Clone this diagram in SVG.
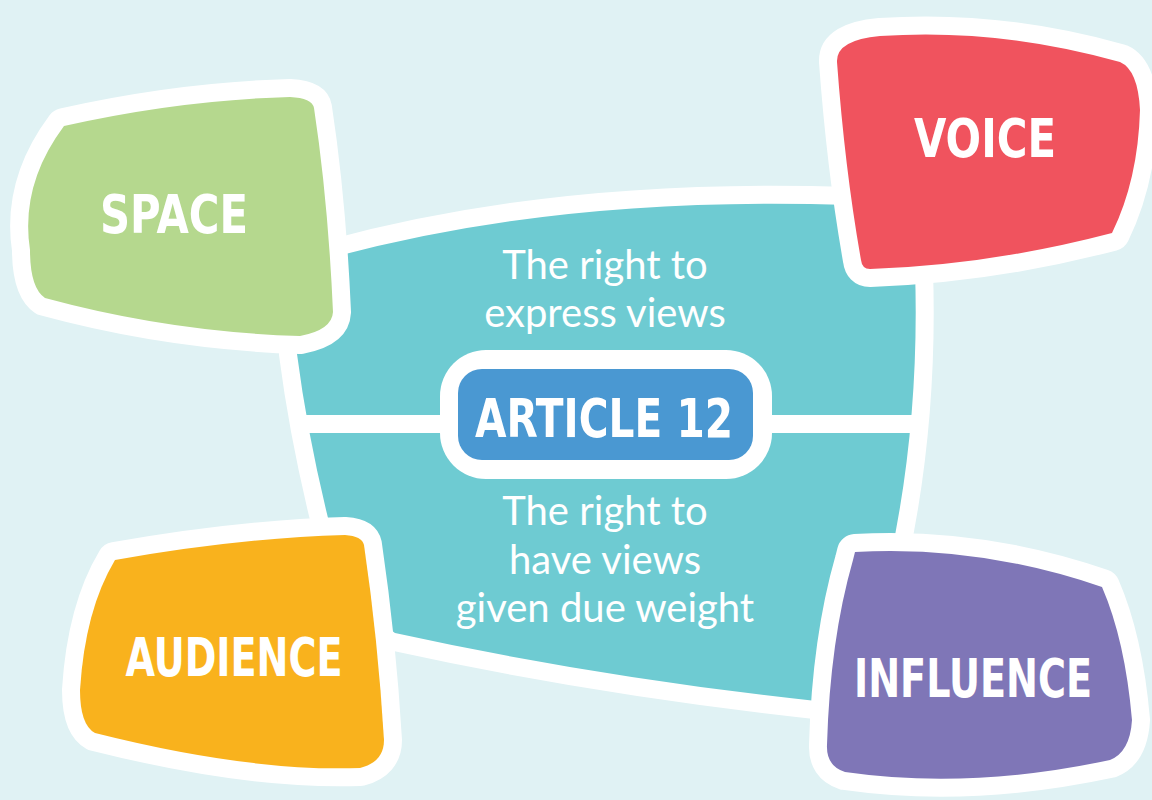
<svg xmlns="http://www.w3.org/2000/svg" width="1152" height="800" viewBox="0 0 1152 800">
<style>
.blob{stroke:#FFFFFF;stroke-width:36;stroke-linejoin:round;paint-order:stroke}
.lbl{font-family:"DejaVu Sans Condensed","DejaVu Sans","Liberation Sans",sans-serif;font-weight:bold;font-size:54px;fill:#FFFFFF;text-anchor:middle}
.body{font-family:Lato,"Open Sans",sans-serif;font-size:40px;fill:#FFFFFF;text-anchor:middle}
</style>
<rect x="0" y="0" width="1152" height="800" fill="#E0F2F4"/>
<g id="center">
  <path class="blob" fill="#6ECBD2" d="M 330,258 Q 560,195 850,205 L 915,270 Q 920,420 890,560 L 880,620 L 825,702 Q 600,678 395,633 L 350,600 Q 312,470 297,354 Q 296,300 330,258 Z"/>
</g>
<g id="connectors">
  <line x1="297" y1="424" x2="915" y2="424" stroke="#FFFFFF" stroke-width="18"/>
</g>
<g id="article12">
  <rect x="440" y="350" width="332" height="129" rx="46" ry="46" fill="#FFFFFF"/>
  <rect x="458" y="369" width="295" height="91" rx="24" ry="24" fill="#4A98D2"/>
  <text class="lbl" x="604" y="437" textLength="258" lengthAdjust="spacingAndGlyphs">ARTICLE 12</text>
</g>
<g id="express">
  <text class="body" x="605" y="279">The right to</text>
  <text class="body" x="605" y="327">express views</text>
</g>
<g id="weight">
  <text class="body" x="605" y="525">The right to</text>
  <text class="body" x="605" y="574">have views</text>
  <text class="body" x="605" y="622">given due weight</text>
</g>
<g id="space">
  <path class="blob" fill="#B5D88E" d="M 64,126 Q 180,100 290,97 Q 312,98 314,108 Q 328,200 333,312 Q 332,330 300,336 Q 170,332 45,298 Q 30,288 30,250 Q 20,185 64,126 Z"/>
  <text class="lbl" x="174" y="233" textLength="148" lengthAdjust="spacingAndGlyphs">SPACE</text>
</g>
<g id="voice">
  <path class="blob" fill="#F0535E" d="M 837,62 Q 836,40 880,36 Q 1000,28 1120,62 Q 1138,70 1140,110 Q 1138,180 1112,233 Q 990,265 870,269 Q 862,269 861,260 Q 845,170 837,62 Z"/>
  <text class="lbl" x="985" y="157" textLength="142" lengthAdjust="spacingAndGlyphs">VOICE</text>
</g>
<g id="audience">
  <path class="blob" fill="#F9B21D" d="M 115,560 Q 240,538 345,535 Q 362,536 364,545 Q 378,640 384,740 Q 384,762 360,768 Q 250,772 95,733 Q 80,725 80,690 Q 85,610 115,560 Z"/>
  <text class="lbl" x="234" y="676" textLength="217" lengthAdjust="spacingAndGlyphs">AUDIENCE</text>
</g>
<g id="influence">
  <path class="blob" fill="#7F76B7" d="M 855,552 Q 980,545 1102,587 Q 1125,640 1132,720 Q 1130,752 1110,760 Q 970,790 845,772 Q 826,766 827,745 Q 830,640 853,560 Z"/>
  <text class="lbl" x="973" y="697" font-size="50" textLength="238" lengthAdjust="spacingAndGlyphs">INFLUENCE</text>
</g>
</svg>
